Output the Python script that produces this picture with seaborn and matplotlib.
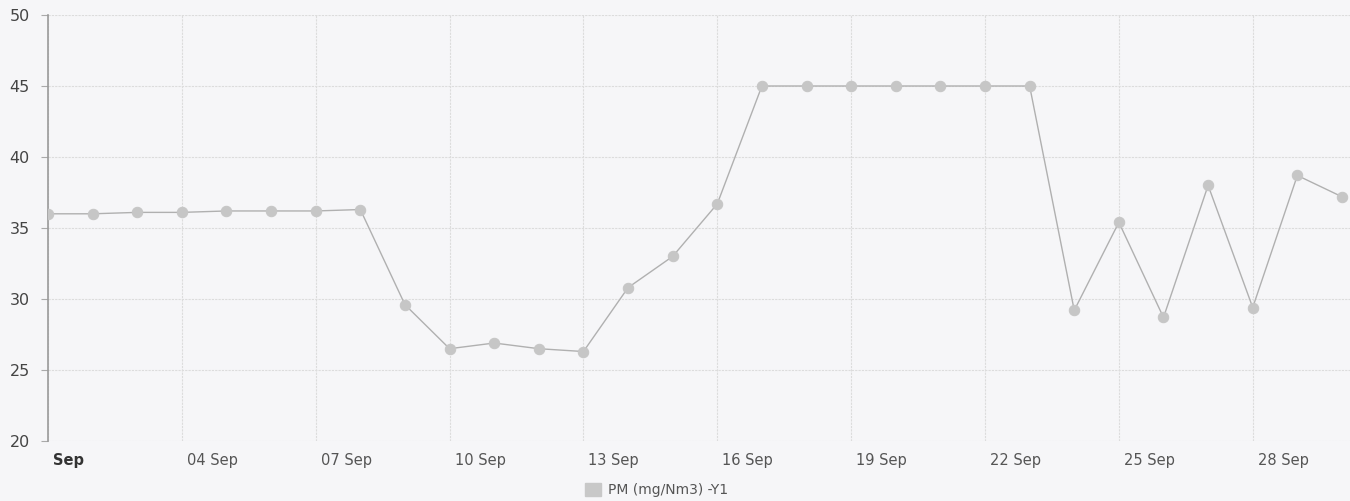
import matplotlib
matplotlib.use("Agg")
import matplotlib.pyplot as plt
import matplotlib.transforms as mtrans
from matplotlib.patches import Patch
import seaborn as sns
import pandas as pd

# ---- data ----
days = list(range(1, 31))
pm_values = [36.0, 36.0, 36.1, 36.1, 36.2, 36.2, 36.2, 36.3, 29.6, 26.5,
             26.9, 26.5, 26.3, 30.8, 33.0, 36.7, 45.0, 45.0, 45.0, 45.0,
             45.0, 45.0, 45.0, 29.2, 35.4, 28.7, 38.0, 29.4, 38.7, 37.2]
tick_days = [1, 4, 7, 10, 13, 16, 19, 22, 25, 28]
tick_labels = ["Sep", "04 Sep", "07 Sep", "10 Sep", "13 Sep", "16 Sep",
               "19 Sep", "22 Sep", "25 Sep", "28 Sep"]
y_ticks = [20, 25, 30, 35, 40, 45, 50]
series_name = "PM (mg/Nm3) -Y1"

df = pd.DataFrame({"day": days, "pm": pm_values})

sns.set_theme(style="white")
plt.rcParams['font.family'] = ['DejaVu Sans']

bg = "#f6f6f8"
fig = plt.figure(figsize=(13.5, 5.01), dpi=100, facecolor=bg)
ax = fig.add_axes([48/1350, 1-441/501, 1-48/1350, (441-15)/501])
ax.set_facecolor(bg)

sns.lineplot(data=df, x="day", y="pm", ax=ax, color="#b0b0b0", linewidth=1.0,
             marker="o", markersize=7.5, markerfacecolor="#c6c6c6",
             markeredgecolor="#c6c6c6", zorder=3)

ax.set_xlim(1, 30.18)
ax.set_ylim(20, 50)
ax.set_xticks(tick_days)
ax.set_xticklabels(tick_labels, fontsize=10.5, color="#555555", ha="left")
for lbl in ax.get_xticklabels():
    if lbl.get_text() == "Sep":
        lbl.set_fontweight("bold")
        lbl.set_color("#333333")
ax.set_yticks(y_ticks)
ax.set_yticklabels([str(v) for v in y_ticks], fontsize=11.5, color="#444444")

ax.grid(True, color="#dcdcdc", linewidth=0.8, linestyle=(0, (2, 1)))
ax.set_axisbelow(True)
for s in ["top", "right", "bottom"]:
    ax.spines[s].set_visible(False)
ax.spines["left"].set_color("#9a9a9a")
ax.spines["left"].set_linewidth(1.2)

ax.tick_params(axis="y", which="major", left=True, length=5, width=0.8,
               color="#aaaaaa", pad=8)
ax.tick_params(axis="x", which="major", bottom=False, length=0, pad=9)
offset = mtrans.ScaledTranslation(5/100, 0, fig.dpi_scale_trans)
for lbl in ax.get_xticklabels():
    lbl.set_transform(lbl.get_transform() + offset)

ax.set_xlabel("")
ax.set_ylabel("")

handle = Patch(facecolor="#c8c8c8", edgecolor="#c8c8c8")
fig.legend([handle], [series_name], loc="center", bbox_to_anchor=(657/1350, 1-490/501),
           frameon=False, fontsize=10, handlelength=1.15, handleheight=1.15,
           handletextpad=0.5, labelcolor="#555555", borderpad=0, borderaxespad=0)

fig.savefig("out.png", dpi=100, facecolor=bg)
